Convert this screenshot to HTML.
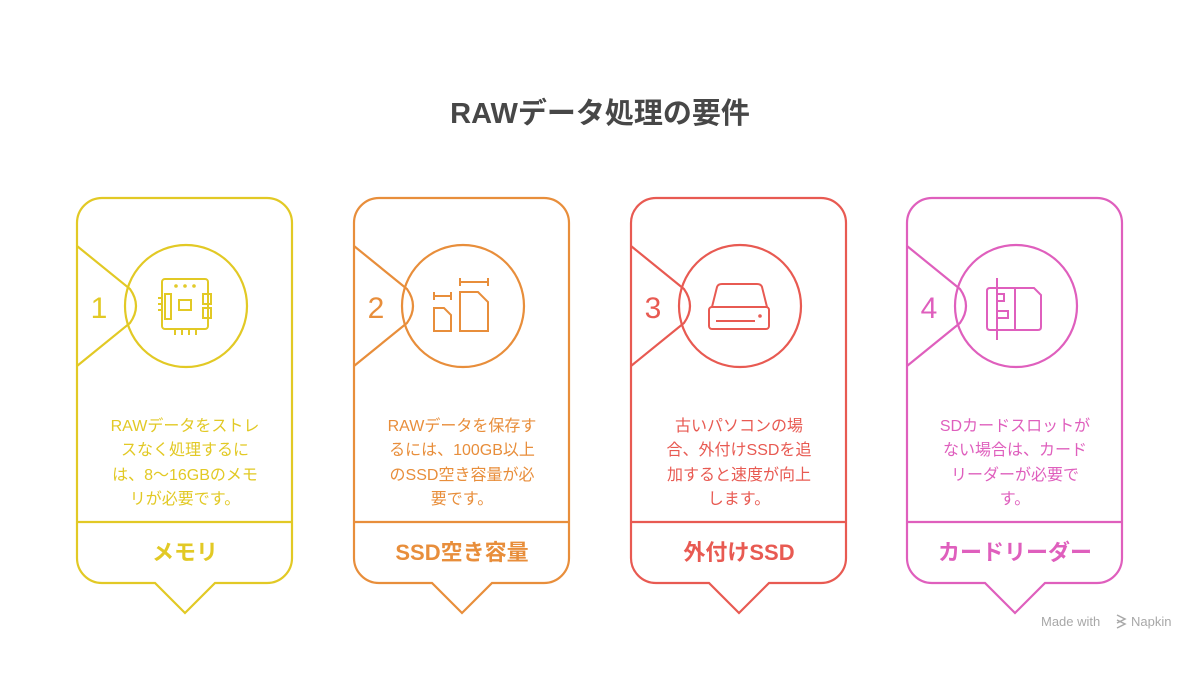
<!DOCTYPE html>
<html><head><meta charset="utf-8"><style>
html,body{margin:0;padding:0;background:#fff;}
svg{display:block;}
text{font-family:"Liberation Sans","Noto Sans CJK JP",sans-serif;}
</style></head><body>
<svg width="1200" height="675" viewBox="0 0 1200 675" xmlns="http://www.w3.org/2000/svg">
<text x="600" y="123" text-anchor="middle" font-size="29" font-weight="bold" fill="#474747">RAWデータ処理の要件</text>

<!-- Card template drawn via groups -->
<g fill="none" stroke-width="2.2">
 <!-- card 1 -->
 <g stroke="#e2c925" transform="translate(77,0)">
  <path d="M25 198 H190 A25 25 0 0 1 215 223 V558 A25 25 0 0 1 190 583 H138 L108 613 L78 583 H25 A25 25 0 0 1 0 558 V223 A25 25 0 0 1 25 198 Z"/>
  <line x1="0" y1="522" x2="215" y2="522"/>
  <path d="M0 246 L53 289 Q65 306 53 323 L0 366"/>
  <circle cx="109" cy="306" r="61"/>
 </g>
 <g stroke="#e88e3b" transform="translate(354,0)">
  <path d="M25 198 H190 A25 25 0 0 1 215 223 V558 A25 25 0 0 1 190 583 H138 L108 613 L78 583 H25 A25 25 0 0 1 0 558 V223 A25 25 0 0 1 25 198 Z"/>
  <line x1="0" y1="522" x2="215" y2="522"/>
  <path d="M0 246 L53 289 Q65 306 53 323 L0 366"/>
  <circle cx="109" cy="306" r="61"/>
 </g>
 <g stroke="#e85a52" transform="translate(631,0)">
  <path d="M25 198 H190 A25 25 0 0 1 215 223 V558 A25 25 0 0 1 190 583 H138 L108 613 L78 583 H25 A25 25 0 0 1 0 558 V223 A25 25 0 0 1 25 198 Z"/>
  <line x1="0" y1="522" x2="215" y2="522"/>
  <path d="M0 246 L53 289 Q65 306 53 323 L0 366"/>
  <circle cx="109" cy="306" r="61"/>
 </g>
 <g stroke="#df5fbd" transform="translate(907,0)">
  <path d="M25 198 H190 A25 25 0 0 1 215 223 V558 A25 25 0 0 1 190 583 H138 L108 613 L78 583 H25 A25 25 0 0 1 0 558 V223 A25 25 0 0 1 25 198 Z"/>
  <line x1="0" y1="522" x2="215" y2="522"/>
  <path d="M0 246 L53 289 Q65 306 53 323 L0 366"/>
  <circle cx="109" cy="306" r="61"/>
 </g>
</g>

<!-- icons -->
<g fill="none" stroke-width="2">
 <!-- chip -->
 <g stroke="#e2c925">
  <rect x="162" y="279" width="46" height="50" rx="3"/>
  <circle cx="176" cy="286" r="0.8"/><circle cx="185" cy="286" r="0.8"/><circle cx="194" cy="286" r="0.8"/>
  <rect x="165" y="294" width="6" height="25"/>
  <rect x="203" y="294" width="8" height="10"/><rect x="203" y="308" width="8" height="10"/>
  <rect x="179" y="300" width="12" height="10"/>
  <line x1="158" y1="298" x2="162" y2="298"/><line x1="158" y1="304" x2="162" y2="304"/><line x1="158" y1="310" x2="162" y2="310"/>
  <line x1="175" y1="329" x2="175" y2="335"/><line x1="182" y1="329" x2="182" y2="335"/><line x1="189" y1="329" x2="189" y2="335"/><line x1="196" y1="329" x2="196" y2="335"/>
 </g>
 <!-- SD sizes -->
 <g stroke="#e88e3b">
  <path d="M434 308 H444 L451 315 V331 H434 Z"/>
  <line x1="434" y1="296" x2="451" y2="296"/><line x1="434" y1="292" x2="434" y2="300"/><line x1="451" y1="292" x2="451" y2="300"/>
  <path d="M460 292 H478 L488 302 V331 H460 Z"/>
  <line x1="460" y1="282" x2="488" y2="282"/><line x1="460" y1="278" x2="460" y2="286"/><line x1="488" y1="278" x2="488" y2="286"/>
 </g>
 <!-- HDD -->
 <g stroke="#e85a52">
  <path d="M712 307 L717 287 Q718 284 722 284 H757 Q761 284 762 287 L767 307"/>
  <rect x="709" y="307" width="60" height="22" rx="3"/>
  <line x1="716" y1="321" x2="755" y2="321"/>
  <circle cx="760" cy="316" r="0.8"/>
 </g>
 <!-- card reader -->
 <g stroke="#df5fbd">
  <path d="M990 288 H1034 L1041 295 V327 Q1041 330 1038 330 H990 Q987 330 987 327 V291 Q987 288 990 288 Z"/>
  <line x1="1015" y1="288" x2="1015" y2="330"/>
  <line x1="997" y1="278" x2="997" y2="340"/>
  <rect x="997" y="294" width="7" height="7"/><rect x="997" y="311" width="11" height="7"/>
 </g>
</g>

<!-- numbers -->
<g font-size="30" text-anchor="middle">
 <text x="99" y="318" fill="#e2c925">1</text>
 <text x="376" y="318" fill="#e88e3b">2</text>
 <text x="653" y="318" fill="#e85a52">3</text>
 <text x="929" y="318" fill="#df5fbd">4</text>
</g>

<!-- body text -->
<g font-size="16" text-anchor="middle">
 <g fill="#e2c925">
  <text x="185" y="431">RAWデータをストレ</text>
  <text x="185" y="455">スなく処理するに</text>
  <text x="185" y="480">は、8〜16GBのメモ</text>
  <text x="185" y="504">リが必要です。</text>
 </g>
 <g fill="#e88e3b">
  <text x="462" y="431">RAWデータを保存す</text>
  <text x="462" y="455">るには、100GB以上</text>
  <text x="462" y="480">のSSD空き容量が必</text>
  <text x="462" y="504">要です。</text>
 </g>
 <g fill="#e85a52">
  <text x="739" y="431">古いパソコンの場</text>
  <text x="739" y="455">合、外付けSSDを追</text>
  <text x="739" y="480">加すると速度が向上</text>
  <text x="739" y="504">します。</text>
 </g>
 <g fill="#df5fbd">
  <text x="1015" y="431">SDカードスロットが</text>
  <text x="1015" y="455">ない場合は、カード</text>
  <text x="1015" y="480">リーダーが必要で</text>
  <text x="1015" y="504">す。</text>
 </g>
</g>

<!-- labels -->
<g font-size="22" font-weight="bold" text-anchor="middle">
 <text x="185" y="560" fill="#e2c925">メモリ</text>
 <text x="462" y="560" fill="#e88e3b">SSD空き容量</text>
 <text x="739" y="560" fill="#e85a52">外付けSSD</text>
 <text x="1015" y="560" fill="#df5fbd">カードリーダー</text>
</g>

<text x="1041" y="626" font-size="13" fill="#a8a8a8">Made with</text>
<path d="M1117 615 l8 4 l-8 4 M1117 620 l8 4 l-8 4" stroke="#a8a8a8" stroke-width="1.5" fill="none"/>
<text x="1131" y="626" font-size="13" fill="#a8a8a8">Napkin</text>
</svg>
</body></html>
